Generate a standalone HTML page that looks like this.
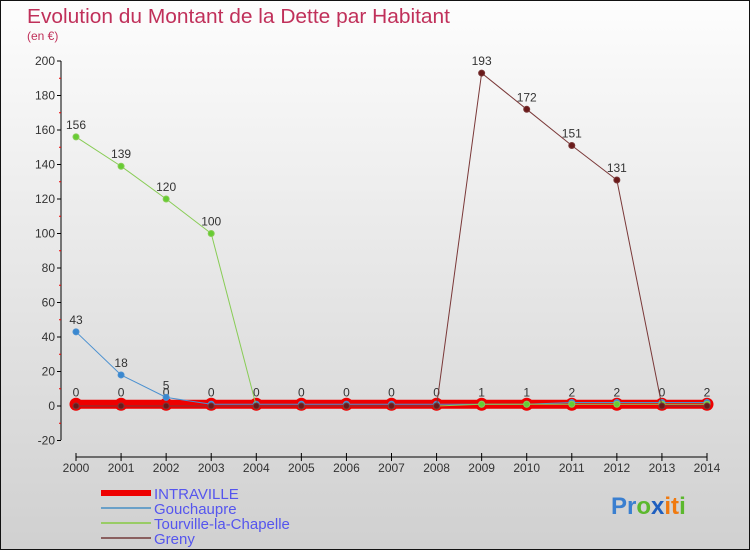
<!DOCTYPE html>
<html><head><meta charset="utf-8"><style>
body{margin:0}
#c{position:relative;width:750px;height:550px;overflow:hidden;background:linear-gradient(#fdfdfd,#d0d0d0);box-sizing:border-box;border:1px solid #111;font-family:"Liberation Sans",sans-serif}
svg{position:absolute;left:0;top:0}
</style></head><body>
<div id="c">
<svg id="s" width="750" height="550">
<text x="26" y="22" font-size="20.5" fill="#c0305a" textLength="423" lengthAdjust="spacingAndGlyphs">Evolution du Montant de la Dette par Habitant</text>
<text x="26" y="39" font-size="12" fill="#c0305a">(en €)</text>
<g id="legend"></g>
<text x="610" y="513" font-size="24" font-weight="bold"><tspan fill="#3a7fd0">Pr</tspan><tspan fill="#5cb82e">o</tspan><tspan fill="#1f5fbf">x</tspan><tspan fill="#f07a10">it</tspan><tspan fill="#5cb82e">i</tspan></text>
</svg>
</div>
<script>
const years=[2000,2001,2002,2003,2004,2005,2006,2007,2008,2009,2010,2011,2012,2013,2014];
const yTicks=[-20,0,20,40,60,80,100,120,140,160,180,200];
const intraville=[1,1,1,1,1,1,1,1,1,1,1,1,1,1,1];
const gouchaupre=[43,18,5,1,1,1,1,1,1,1,1,2,2,2,2];
const tourville=[156,139,120,100,0,0,0,0,0,1,1,1,1,1,1];
const greny=[0,0,0,0,0,0,0,0,0,193,172,151,131,0,0];
const intraLabels=[0,0,0,0,0,0,0,0,0,1,1,2,2,0,2];
const NS="http://www.w3.org/2000/svg";
const s=document.getElementById('s');
const X=i=>75+i*(706-75)/14;
const Y=v=>405-v*(405-60)/200;
function el(t,a,p){const e=document.createElementNS(NS,t);for(const k in a)e.setAttribute(k,a[k]);(p||s).appendChild(e);return e;}
let ax=el('line',{x1:60,y1:60,x2:60,y2:439,stroke:'#000'});


let bx=el('line',{x1:75,y1:456,x2:706,y2:456,stroke:'#000'});


yTicks.forEach(v=>{
  el('line',{x1:56,y1:Y(v),x2:60,y2:Y(v),stroke:'#000'});
  if(v<200) el('line',{x1:58,y1:Y(v+10),x2:60,y2:Y(v+10),stroke:'#e00'});
  const t=el('text',{x:54,y:Y(v)+4,'font-size':12,'text-anchor':'end',fill:'#333'});t.textContent=v;
  
  
});
years.forEach((y,i)=>{
  el('line',{x1:X(i),y1:452,x2:X(i),y2:460,stroke:'#000'});
  const t=el('text',{x:X(i),y:471,'font-size':12,'text-anchor':'middle',fill:'#333'});t.textContent=y;
  
  
});
function series(data,color,w,name,r,fill,labels){
  const g=el('g',{});
  
  
  el('polyline',{points:data.map((v,i)=>X(i)+','+Y(v)).join(' '),fill:'none',stroke:color,'stroke-width':w},g);
  data.forEach((v,i)=>{
    const c=el('circle',{cx:X(i),cy:Y(v),r:r,fill:fill,stroke:color,'stroke-width':1},g);
    
    
    if(labels){const t=el('text',{x:X(i),y:Y(v)-8,'font-size':12,'text-anchor':'middle',fill:'#333'},g);t.textContent=labels[i];}
  });
}
series(intraville,'#ee0000',9,'series-intraville',6,'#ee0000',intraLabels);
series(gouchaupre,'#4a90d0',1,'series-gouchaupre',3,'#3a88d0',gouchaupre.map(v=>v>2?v:''));
series(tourville,'#88cc55',1,'series-tourville',3,'#66cc33',tourville.map(v=>v>2?v:''));
series(greny,'#7a3838',1,'series-greny',3,'#6a1a1a',greny.map(v=>v>2?v:''));
const lg=document.getElementById('legend');
[['INTRAVILLE','#ee0000',6],['Gouchaupre','#6aa0c8',2],['Tourville-la-Chapelle','#99cc66',2],['Greny','#8a6060',2]].forEach((d,i)=>{
  const y=492+i*15;
  el('line',{x1:100,y1:y,x2:150,y2:y,stroke:d[1],'stroke-width':d[2]},lg);
  const t=el('text',{x:153,y:y+6,'font-size':15,fill:'#5555ee'},lg);t.textContent=d[0];
  
  
});
</script>
</body></html>
